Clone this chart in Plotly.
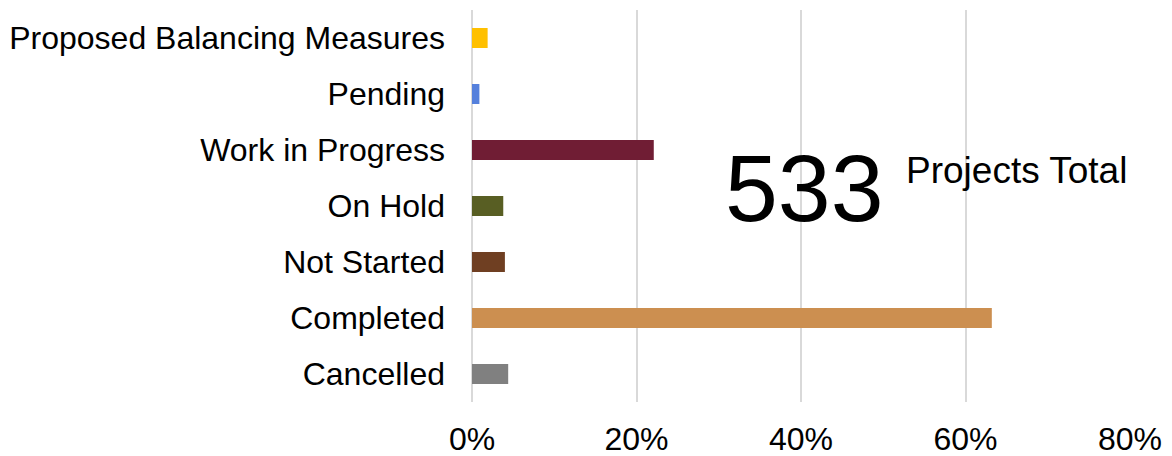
import plotly.graph_objects as go

categories = ["Proposed Balancing Measures", "Pending", "Work in Progress", "On Hold",
              "Not Started", "Completed", "Cancelled"]
shares = [0.019, 0.009, 0.221, 0.038, 0.040, 0.632, 0.044]
colors = ["#FFC000", "#5580DC", "#701D34", "#585E23", "#6F3F22", "#CC8F50", "#808080"]
tick_vals = [0, 0.2, 0.4, 0.6, 0.8]
tick_text = ["0%", "20%", "40%", "60%", "80%"]
total_projects = "533"
total_label = "Projects Total"

FONT = "Liberation Sans, Arial, sans-serif"

fig = go.Figure(go.Bar(
    x=shares, y=categories, orientation="h",
    marker=dict(color=colors, line=dict(width=0)),
    hoverinfo="x+y",
))

# page body has an 8px margin, so the figure is sized/offset accordingly
fig.update_layout(
    width=1164, height=448,
    margin=dict(l=464, r=42, t=2, b=54),
    paper_bgcolor="white", plot_bgcolor="white",
    bargap=0.643,
    showlegend=False,
    font=dict(family=FONT, color="black"),
    xaxis=dict(range=[0, 0.8], tickvals=tick_vals, ticktext=tick_text,
               showgrid=True, gridcolor="#d9d9d9", gridwidth=2,
               zeroline=True, zerolinecolor="#d9d9d9", zerolinewidth=2,
               showline=False, ticks="", automargin=False,
               tickfont=dict(size=32, family=FONT, color="black"),
               ticklabelstandoff=15),
    yaxis=dict(autorange="reversed", showgrid=False, zeroline=False, showline=False,
               ticks="", automargin=False,
               tickfont=dict(size=32, family=FONT, color="black"),
               ticklabelstandoff=26),
    annotations=[
        dict(text=total_projects, xref="paper", yref="paper", x=0.505, y=0.545,
             xanchor="center", yanchor="middle", showarrow=False,
             font=dict(size=95, family=FONT, color="black")),
        dict(text=total_label, xref="paper", yref="paper", x=(904 - 472) / 658, y=0.59,
             xanchor="left", yanchor="middle", showarrow=False,
             font=dict(size=37, family=FONT, color="black")),
    ],
)

fig.write_html("out.html")
